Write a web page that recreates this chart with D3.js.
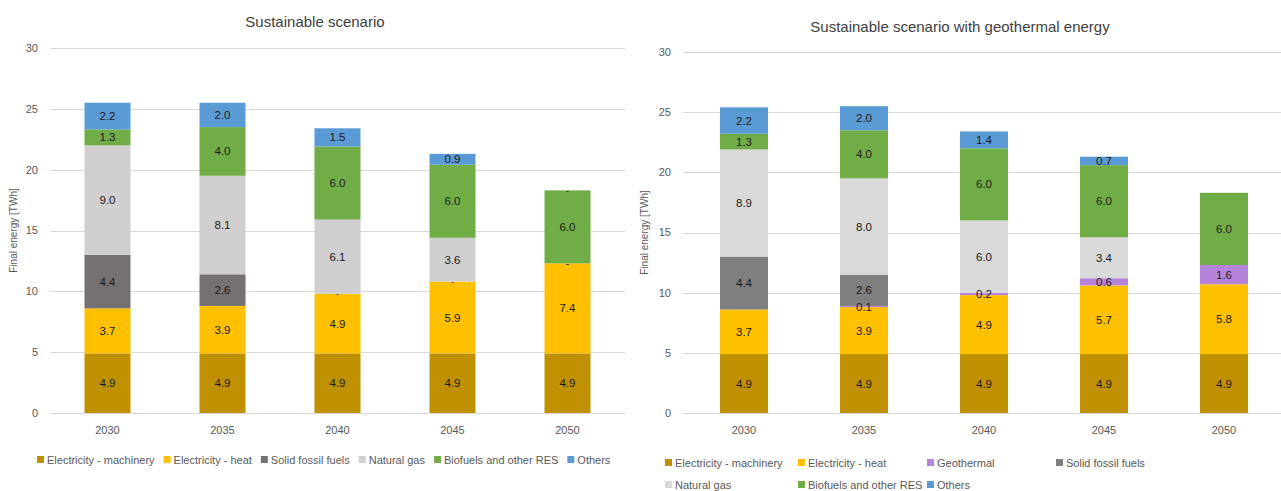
<!DOCTYPE html>
<html><head><meta charset="utf-8">
<script src="https://cdn.jsdelivr.net/npm/d3@7"></script>
<style>
html,body{margin:0;padding:0;background:#fff;}
svg{display:block;font-family:"Liberation Sans",Arial,sans-serif;}
</style></head>
<body>
<svg id="chart" width="1281" height="491"></svg>
<script>
const years = ["2030","2035","2040","2045","2050"];
const yTicks = [0,5,10,15,20,25,30];

// Left: Sustainable scenario
const leftTitle = "Sustainable scenario";
const leftKeys = ["Electricity - machinery","Electricity - heat","Solid fossil fuels","Natural gas","Biofuels and other RES","Others"];
const leftMachinery = [4.9,4.9,4.9,4.9,4.9];
const leftHeat      = [3.7,3.9,4.9,5.9,7.4];
const leftSolid     = [4.4,2.6,0,0,0];
const leftGas       = [9.0,8.1,6.1,3.6,0];
const leftBio       = [1.3,4.0,6.0,6.0,6.0];
const leftOthers    = [2.2,2.0,1.5,0.9,0];

// Right: Sustainable scenario with geothermal energy
const rightTitle = "Sustainable scenario with geothermal energy";
const rightKeys = ["Electricity - machinery","Electricity - heat","Geothermal","Solid fossil fuels","Natural gas","Biofuels and other RES","Others"];
const rightMachinery = [4.9,4.9,4.9,4.9,4.9];
const rightHeat      = [3.7,3.9,4.9,5.7,5.8];
const rightGeo       = [null,0.1,0.2,0.6,1.6];
const rightSolid     = [4.4,2.6,null,null,null];
const rightGas       = [8.9,8.0,6.0,3.4,null];
const rightBio       = [1.3,4.0,6.0,6.0,6.0];
const rightOthers    = [2.2,2.0,1.4,0.7,null];

const leftColors = {"Electricity - machinery":"#BF9000","Electricity - heat":"#FFC000","Solid fossil fuels":"#767171","Natural gas":"#D0CECE","Biofuels and other RES":"#70AD47","Others":"#5B9BD5"};
const rightColors = {"Electricity - machinery":"#BF9000","Electricity - heat":"#FFC000","Geothermal":"#B584DA","Solid fossil fuels":"#7F7F7F","Natural gas":"#D9D9D9","Biofuels and other RES":"#70AD47","Others":"#5B9BD5"};

const svg = d3.select("#chart");

function drawChart(cfg){
  const g = svg.append("g");
  const x = d3.scaleBand().domain(years).range([cfg.x0,cfg.x1]).paddingInner(0.6).paddingOuter(0.3);
  const y = d3.scaleLinear().domain([0,30]).range([cfg.yBottom,cfg.yTop]);
  g.selectAll("line.grid").data(yTicks).join("line")
    .attr("x1",cfg.gx0).attr("x2",cfg.gx1)
    .attr("y1",d=>Math.round(y(d))+0.5).attr("y2",d=>Math.round(y(d))+0.5)
    .attr("stroke","#D9D9D9").attr("stroke-width",1);
  g.selectAll("text.ytick").data(yTicks).join("text")
    .attr("x",cfg.gx0-12).attr("y",d=>y(d)).attr("dy","0.35em")
    .attr("text-anchor","end").attr("font-size",11).attr("fill","#595959").text(d=>d);
  g.append("text").attr("transform",`translate(${cfg.yLabelX},${(cfg.yTop+cfg.yBottom)/2}) rotate(-90)`)
    .attr("text-anchor","middle").attr("font-size",10).attr("fill","#595959").text("Final energy [TWh]");
  g.append("text").attr("x",cfg.titleX).attr("y",cfg.titleY).attr("text-anchor","middle")
    .attr("font-size",15).attr("fill","#404040").text(cfg.title);
  g.selectAll("text.xl").data(years).join("text")
    .attr("x",d=>x(d)+x.bandwidth()/2).attr("y",cfg.yBottom+21)
    .attr("text-anchor","middle").attr("font-size",11).attr("fill","#595959").text(d=>d);
  const rows = years.map((yr,i)=>{const o={year:yr}; cfg.keys.forEach((k,j)=>{o[k]=cfg.series[j][i];}); return o;});
  const stack = d3.stack().keys(cfg.keys).value((d,k)=>d[k]==null?0:d[k]);
  const layers = stack(rows);
  layers.forEach(layer=>{
    const key = layer.key;
    g.append("g").selectAll("rect").data(layer).join("rect")
      .attr("x",d=>x(d.data.year)).attr("width",x.bandwidth())
      .attr("y",d=>y(d[1])).attr("height",d=>Math.max(0,y(d[0])-y(d[1])))
      .attr("fill",cfg.colors[key]);
  });
  layers.forEach(layer=>{
    const key = layer.key;
    g.append("g").selectAll("text").data(layer.filter(d=>d.data[key]!=null)).join("text")
      .attr("x",d=>x(d.data.year)+x.bandwidth()/2)
      .attr("y",d=>y((d[0]+d[1])/2)).attr("dy","0.35em")
      .attr("text-anchor","middle").attr("font-size",d=>d.data[key]===0?9:11.5).attr("fill","#1a1a1a")
      .text(d=>d.data[key]===0?"-":d.data[key].toFixed(1));
  });
  const lg = g.append("g");
  cfg.legend.forEach(it=>{
    const k = it.key;
    lg.append("rect").attr("x",it.x).attr("y",it.y-4).attr("width",7).attr("height",7).attr("fill",cfg.colors[k]);
    lg.append("text").attr("x",it.x+10).attr("y",it.y).attr("dy","0.35em").attr("font-size",11).attr("fill","#595959").text(k);
  });
}

function flowLegend(keys,startX,y,gap){
  const tmp = svg.append("text").attr("font-size",11).attr("font-family","Liberation Sans, Arial, sans-serif");
  let cx = startX; const out=[];
  keys.forEach(k=>{tmp.text(k); const w=tmp.node().getComputedTextLength(); out.push({key:k,x:cx,y:y}); cx += 10 + w + gap;});
  tmp.remove();
  return out;
}

drawChart({
  title:leftTitle, titleX:315, titleY:27,
  keys:leftKeys, series:[leftMachinery,leftHeat,leftSolid,leftGas,leftBio,leftOthers], colors:leftColors,
  x0:50, x1:625, gx0:50, gx1:625, yTop:48, yBottom:413, yLabelX:17,
  legend:flowLegend(leftKeys,37,460,9)
});

const rcols=[665,798,927,1056];
const rightLegend = rightKeys.map((k,i)=>({key:k,x:rcols[i%4],y:i<4?463:485}));
drawChart({
  title:rightTitle, titleX:960, titleY:32,
  keys:rightKeys, series:[rightMachinery,rightHeat,rightGeo,rightSolid,rightGas,rightBio,rightOthers], colors:rightColors,
  x0:684, x1:1284, gx0:683, gx1:1281, yTop:52, yBottom:413, yLabelX:648,
  legend:rightLegend
});
</script>
</body></html>
